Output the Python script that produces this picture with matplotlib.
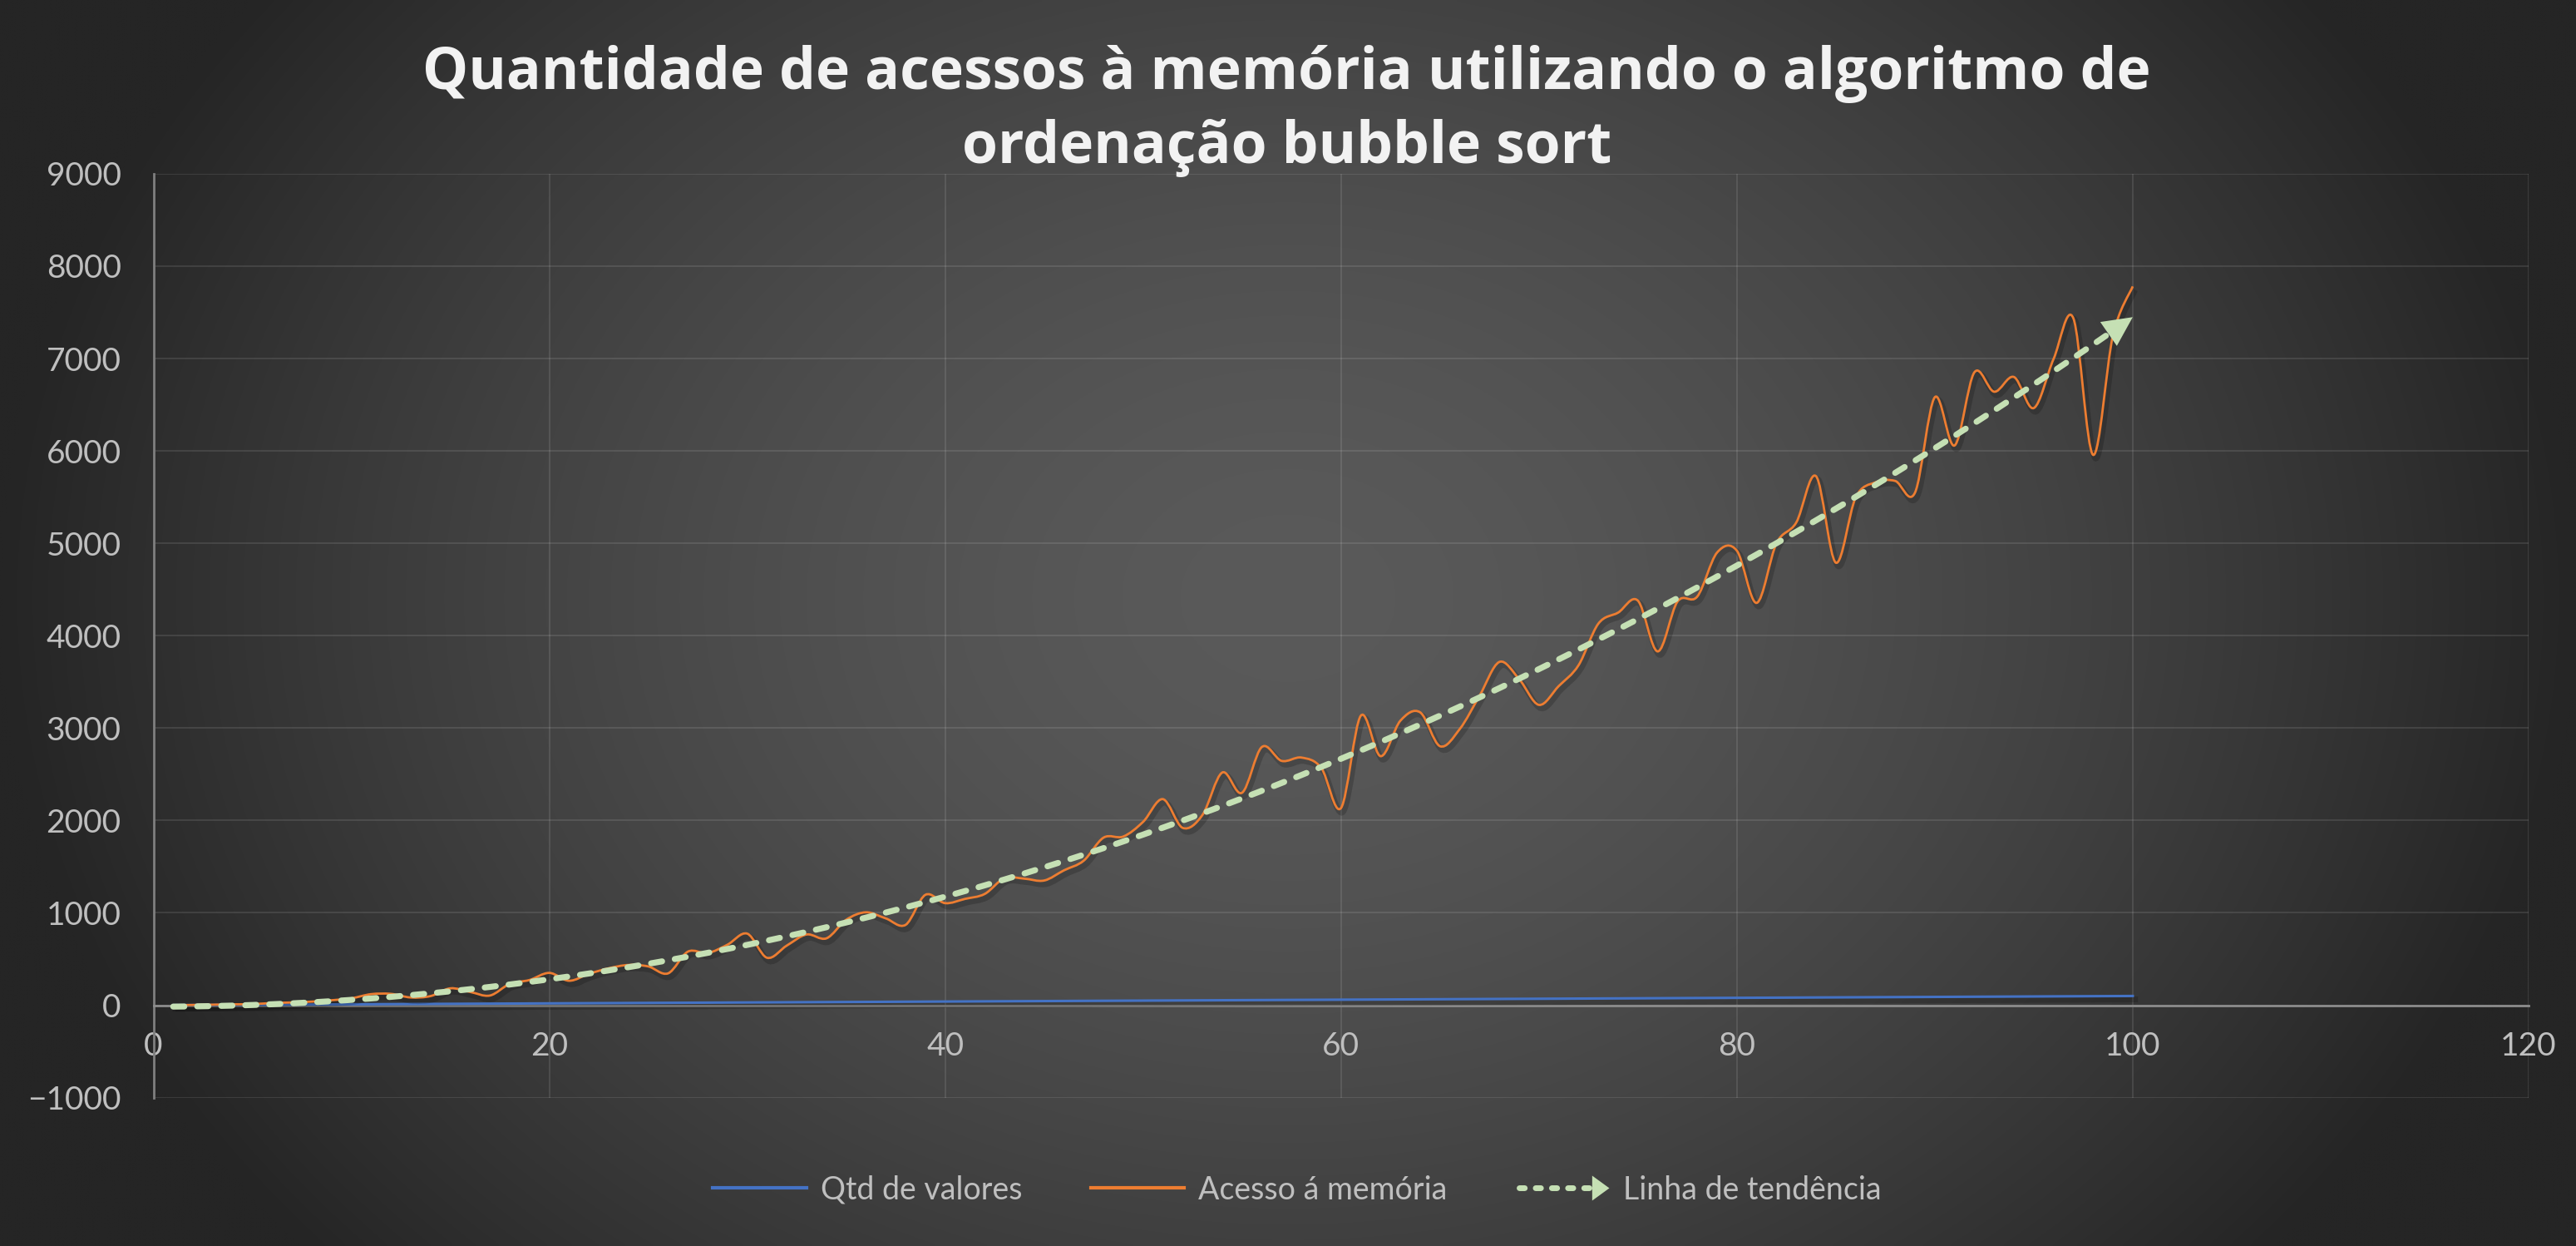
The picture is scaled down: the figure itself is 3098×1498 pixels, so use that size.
import numpy as np
import matplotlib
matplotlib.use("Agg")
import matplotlib.pyplot as plt
import matplotlib.patheffects as pe
from matplotlib.path import Path
from matplotlib.patches import PathPatch, Polygon
from matplotlib.lines import Line2D
from matplotlib.legend_handler import HandlerBase

plt.rcParams["font.family"] = ["Lato", "DejaVu Sans"]

# ------------------------------------------------------------
# dados
# ------------------------------------------------------------
qtd_valores = list(range(1, 101))

acesso_memoria = [
    0, 3, 6, 10, 12, 24, 30, 39, 54, 75,
    120, 123, 84, 99, 183, 144, 105, 231, 273, 350,
    265, 340, 400, 436, 420, 345, 580, 565, 655, 775,
    514, 646, 766, 724, 925, 1006, 940, 870, 1195, 1105,
    1151, 1205, 1376, 1370, 1350, 1460, 1565, 1814, 1826, 1985,
    2231, 1920, 2060, 2519, 2300, 2795, 2645, 2681, 2570, 2135,
    3134, 2696, 3080, 3170, 2804, 2990, 3350, 3716, 3530, 3251,
    3455, 3680, 4130, 4250, 4379, 3830, 4370, 4424, 4900, 4920,
    4355, 5000, 5225, 5726, 4790, 5495, 5660, 5675, 5549, 6581,
    6059, 6851, 6641, 6800, 6464, 6995, 7436, 5957, 7250, 7781,
]

titulo = "Quantidade de acessos à memória utilizando o algoritmo de\nordenação bubble sort"
legendas = ["Qtd de valores", "Acesso á memória", "Linha de tendência"]
x_ticks = [0, 20, 40, 60, 80, 100, 120]
y_ticks = list(range(-1000, 9001, 1000))

AZUL = "#4472C4"
LARANJA = "#ED7D31"
VERDE = "#C5E0B4"
TXT = "#BFBFBF"


def smooth_path(xs, ys):
    # linha suavizada estilo Excel (bezier catmull-rom)
    p = np.column_stack([xs, ys]).astype(float)
    n = len(p)
    verts = [p[0]]
    codes = [Path.MOVETO]
    for i in range(n - 1):
        p0 = p[i - 1] if i > 0 else p[i]
        p1 = p[i]
        p2 = p[i + 1]
        p3 = p[i + 2] if i + 2 < n else p[i + 1]
        c1 = p1 + (p2 - p0) / 6.0
        c2 = p2 - (p3 - p1) / 6.0
        verts += [c1, c2, p2]
        codes += [Path.CURVE4] * 3
    return Path(verts, codes)


class HandlerTrend(HandlerBase):
    def create_artists(self, legend, orig_handle, xdescent, ydescent,
                       width, height, fontsize, trans):
        x0 = -xdescent
        x1 = x0 + width
        y = (height - ydescent) / 2
        head = 0.55 * fontsize
        ln = Line2D([x0 + 3, x1 - head], [y, y], color=VERDE, lw=5,
                    linestyle=(0, (0.9, 1.9)), dash_capstyle="round",
                    transform=trans)
        tri = Polygon([[x1 - head, y + 0.4 * fontsize], [x1, y],
                       [x1 - head, y - 0.4 * fontsize]],
                      closed=True, facecolor=VERDE, edgecolor="none",
                      transform=trans)
        return [ln, tri]


# ------------------------------------------------------------
# figura
# ------------------------------------------------------------
fig = plt.figure(figsize=(30.98, 14.98), dpi=100)

# fundo com gradiente radial
bg = fig.add_axes([0, 0, 1, 1], zorder=0)
gx, gy = np.meshgrid(np.linspace(0, 1, 600), np.linspace(0, 1, 300))
r = np.sqrt(((gx - 0.5) / 0.5) ** 2 + (((gy - 0.52) / 0.5) * 0.62) ** 2)
r = np.clip(r, 0, 1)
c0, c1 = 0x5A / 255, 0x25 / 255
val = c0 - (c0 - c1) * r ** 1.6
bg.imshow(np.dstack([val, val, val]), extent=[0, 1, 0, 1], aspect="auto",
          interpolation="bilinear", origin="lower")
bg.set_axis_off()

ax = fig.add_axes([0.05956, 0.11909, 0.92204, 0.74145], zorder=1)
ax.set_facecolor("none")

ax.set_xlim(0, 120)
ax.set_ylim(-1000, 9000)
ax.set_xticks(x_ticks)
ax.set_yticks(y_ticks)
ax.grid(True, color="white", alpha=0.10, lw=1.5)
ax.set_axisbelow(True)

for s in ["top", "right"]:
    ax.spines[s].set_visible(False)
ax.spines["bottom"].set_position(("data", 0))
ax.spines["bottom"].set_color("#8C8C8C")
ax.spines["bottom"].set_linewidth(2)
ax.spines["left"].set_color("#7F7F7F")
ax.spines["left"].set_linewidth(2)

ax.tick_params(axis="both", length=0, labelsize=28, labelcolor=TXT)
ax.tick_params(axis="y", pad=28)
ax.tick_params(axis="x", pad=23)

sombra = [pe.Stroke(offset=(2, -3), linewidth=5, foreground="black", alpha=0.18),
          pe.Normal()]

# série azul
ax.plot(qtd_valores, qtd_valores, color=AZUL, lw=2.2, zorder=3,
        path_effects=sombra)

# série laranja suavizada
patch = PathPatch(smooth_path(qtd_valores, acesso_memoria), facecolor="none",
                  edgecolor=LARANJA, lw=2.0, transform=ax.transData, zorder=4,
                  path_effects=sombra)
ax.add_patch(patch)

# linha de tendência polinomial (ordem 2)
coef = np.polyfit(qtd_valores, acesso_memoria, 2)
tend = np.polyval(coef, qtd_valores)
ax.plot(qtd_valores[:-1], tend[:-1], color=VERDE, lw=5.2,
        linestyle=(0, (1.85, 2.15)), dash_capstyle="round", zorder=5)
ax.annotate("", xy=(qtd_valores[-1], tend[-1]),
            xytext=(qtd_valores[-2], tend[-2]),
            arrowprops=dict(arrowstyle="-|>,head_length=0.85,head_width=0.42",
                            mutation_scale=30, color=VERDE, lw=0,
                            shrinkA=0, shrinkB=0),
            zorder=6)

# título
fig.text(0.4995, 0.9108, titulo, ha="center", va="center",
         multialignment="center", fontsize=50, fontweight="bold",
         family=["Open Sans", "DejaVu Sans"],
         color="#F2F2F2", linespacing=1.36)

# legenda
h_azul = Line2D([], [], color=AZUL, lw=3)
h_laranja = Line2D([], [], color=LARANJA, lw=3)
h_tend = Line2D([], [], color=VERDE)
fig.legend([h_azul, h_laranja, h_tend], legendas, loc="center",
           bbox_to_anchor=(0.5036, 0.045), ncol=3, frameon=False,
           fontsize=27, labelcolor=TXT, handlelength=3.0,
           handletextpad=0.45, columnspacing=2.2,
           handler_map={h_tend: HandlerTrend()})

fig.savefig("out.png", dpi=100)
